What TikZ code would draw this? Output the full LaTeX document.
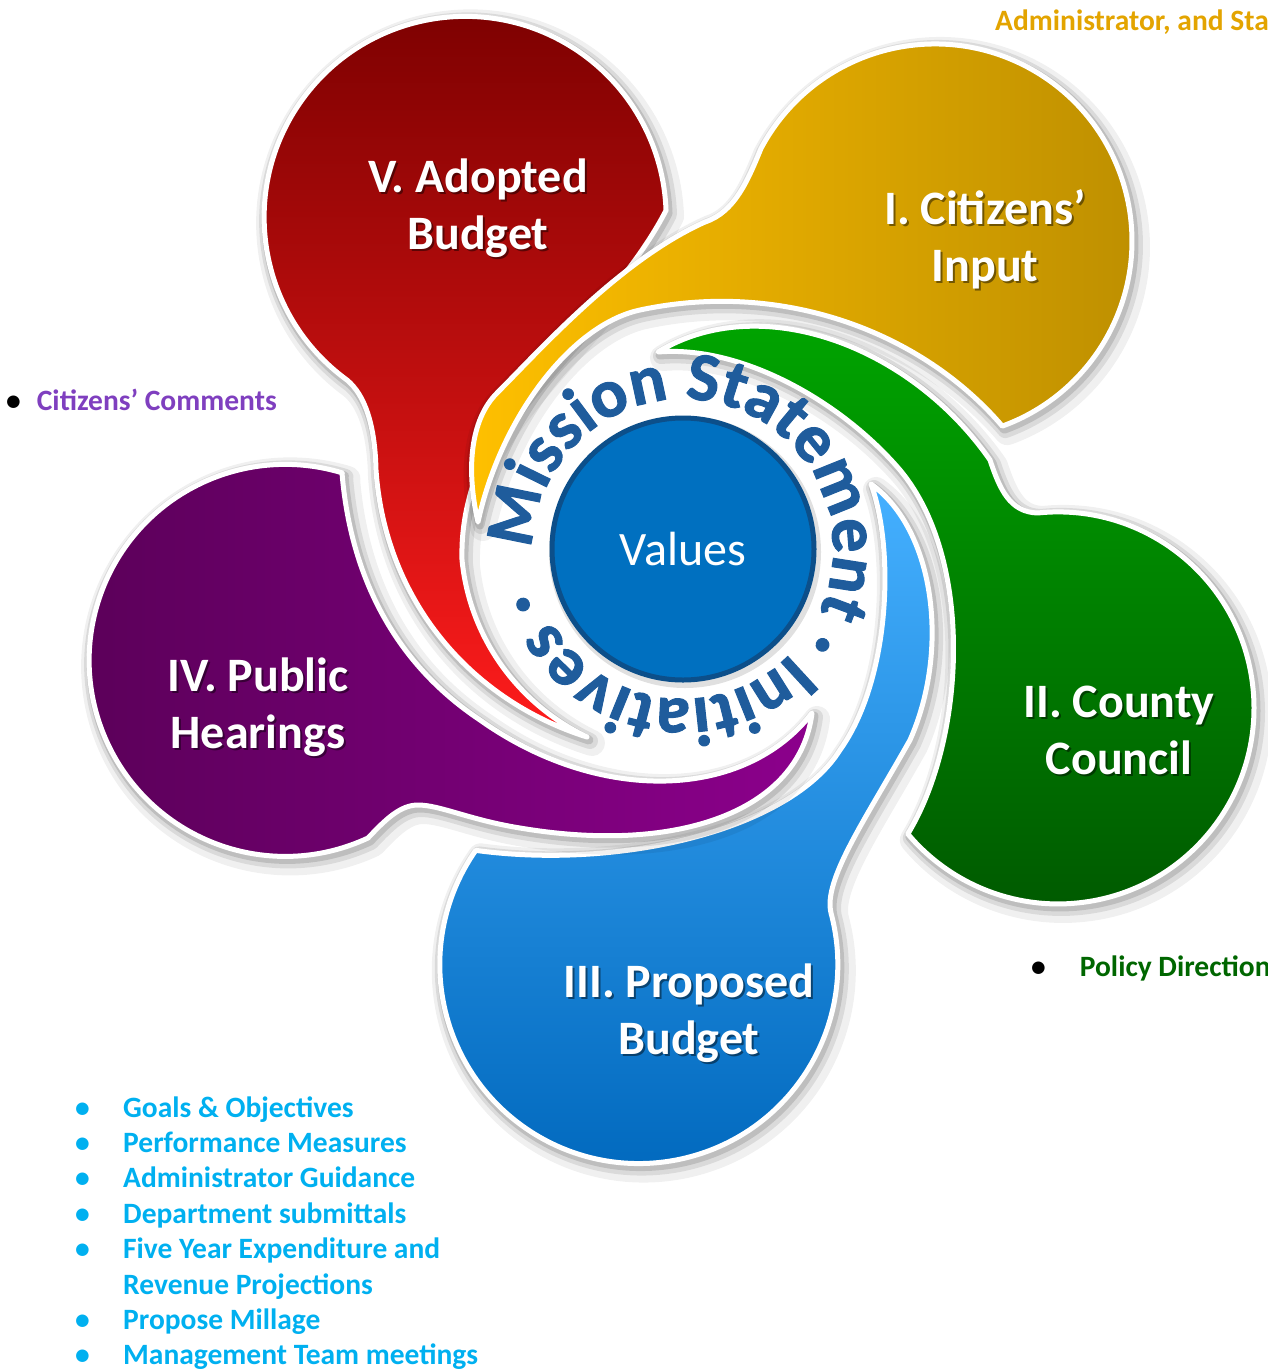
\documentclass[tikz,border=0pt]{standalone}
\usepackage{fontspec}
\setmainfont{Carlito}
\newfontfamily\ringfam{Carlito}[BoldFeatures={FakeBold=1.5}]
\usetikzlibrary{decorations.text}
\definecolor{redtop}{HTML}{7A0000}
\definecolor{redbot}{HTML}{FF1C1C}
\definecolor{ylwA}{HTML}{FFC000}
\definecolor{ylwB}{HTML}{BC8E00}
\definecolor{grnA}{HTML}{00A800}
\definecolor{grnB}{HTML}{005A00}
\definecolor{bluA}{HTML}{45B0FF}
\definecolor{bluB}{HTML}{0068BD}
\definecolor{purA}{HTML}{5A0058}
\definecolor{purB}{HTML}{8C008C}
\definecolor{ringblue}{HTML}{1F5C9C}
\definecolor{valfill}{HTML}{0070C0}
\definecolor{valdraw}{HTML}{0C4F8A}
\definecolor{adminorange}{HTML}{E3A400}
\definecolor{cpurple}{HTML}{7F3FBF}
\definecolor{pgreen}{HTML}{006600}
\definecolor{listblue}{HTML}{00B0F0}
\newcommand\ringfont{\fontsize{68.6}{72}\ringfam\bfseries}
\begin{document}
\begin{tikzpicture}[x=1pt,y=-1pt,
  petal/.style={draw=white, line width=5pt, line join=round,
    preaction={draw=black, opacity=0.06, line width=26pt, line join=round, transform canvas={shift={(5pt,-6pt)}}},
    preaction={draw=black, opacity=0.09, line width=16pt, line join=round, transform canvas={shift={(3pt,-4pt)}}},
    preaction={draw=black, opacity=0.13, line width=9pt, line join=round, transform canvas={shift={(2pt,-3pt)}}}},
  lbl/.style={text=white, font=\fontsize{48}{57}\selectfont\bfseries, align=center, inner sep=0pt},
  lblsh/.style={lbl, text=black, opacity=0.45},
  side/.style={anchor=base west, inner sep=0pt, font=\fontsize{29.5}{35}\selectfont\bfseries}]
\useasboundingbox (0,0) rectangle (1267,1371);

% V. red petal
\path[petal, top color=redtop, bottom color=redbot]
  (347,380) arc[start angle=126, end angle=358, radius=201]
  .. controls (620,300) and (520,380) .. (485,450)
  .. controls (470,490) and (461,520) .. (462,560)
  .. controls (470,640) and (520,705) .. (587,737)
  .. controls (470,700) and (385,600) .. (376,470)
  .. controls (375,425) and (365,395) .. cycle;

% I. yellow petal
\path[petal, left color=ylwA, right color=ylwB]
  (478,522) .. controls (466,470) and (470,420) .. (497,393)
  .. controls (540,350) and (620,260) .. (705,222)
  .. controls (735,212) and (748,180) .. (761,148.5)
  arc[start angle=208, end angle=430, radius=197]
  .. controls (920,330) and (780,280) .. (640,310)
  .. controls (570,325) and (500,420) .. cycle;

% II. green petal
\path[petal, top color=grnA, bottom color=grnB]
  (658,352) .. controls (760,290) and (910,345) .. (990,460)
  .. controls (1000,490) and (1010,512) .. (1037.5,513)
  arc[start angle=264, end angle=500, radius=196]
  .. controls (965,740) and (975,560) .. (900,470)
  .. controls (840,400) and (740,345) .. cycle;

% III. blue petal
\path[petal, top color=bluA, bottom color=bluB]
  (871,484) .. controls (935,530) and (950,650) .. (910,740)
  .. controls (865,820) and (823,880) .. (831,913)
  arc[start angle=345, end angle=575, radius=199]
  .. controls (620,870) and (790,830) .. (840,750)
  .. controls (890,680) and (895,550) .. cycle;

% IV. purple petal
\path[petal, left color=purA, right color=purB]
  (342,473) .. controls (350,570) and (390,660) .. (480,720)
  .. controls (600,805) and (745,800) .. (812,713)
  .. controls (800,810) and (680,855) .. (520,828)
  .. controls (470,820) and (440,805) .. (418,805)
  .. controls (400,805) and (385,820) .. (368,838)
  arc[start angle=65, end angle=287, radius=196] -- cycle;

% centre
\node[circle, minimum size=262pt, inner sep=0pt, fill=valfill, draw=valdraw, line width=5pt,
  text=white, font=\fontsize{48}{56}\selectfont,
  preaction={draw=black, opacity=0.12, line width=10pt, transform canvas={shift={(2pt,-3pt)}}}]
  (values) at (683,549) {Values};

% ring text
\path[decorate, decoration={text along path, text align=left, text color=ringblue,
  text={|\ringfont|Mission Statement · Initiatives ·}}]
  (683,549) ++(-180:150) arc[start angle=-180, end angle=180, radius=150];

% petal labels
\node[lblsh] (t5s) at (480,210) {V. Adopted\\Budget};
\node[lbl]   (t5)  at (478,208) {V. Adopted\\Budget};
\node[lblsh] (t1s) at (987,241) {I. Citizens’\\Input};
\node[lbl]   (t1)  at (985,239) {I. Citizens’\\Input};
\node[lblsh] (t2s) at (1121,732) {II. County\\Council};
\node[lbl]   (t2)  at (1119,730) {II. County\\Council};
\node[lblsh] (t3s) at (691,1015) {III. Proposed\\Budget};
\node[lbl]   (t3)  at (689,1013) {III. Proposed\\Budget};
\node[lblsh] (t4s) at (260,709) {IV. Public\\Hearings};
\node[lbl]   (t4)  at (258,707) {IV. Public\\Hearings};

% side texts
\node[side, text=adminorange] (admin) at (995,30) {Administrator, and Sta};
\node[side] (comments) at (6,410) {\textcolor{black}{•}\hspace{16pt}\textcolor{cpurple}{Citizens’ Comments}};
\node[side] (policy) at (1031,976) {\textcolor{black}{•}\hspace{34pt}\textcolor{pgreen}{Policy Direction}};
\node[anchor=base west, inner sep=0pt, text=listblue, font=\fontsize{29.5}{35.4}\selectfont\bfseries] (list) at (75,1117)
  {\begin{tabular}[t]{@{}p{48pt}@{}l@{}}
   • & Goals \& Objectives\\
   • & Performance Measures\\
   • & Administrator Guidance\\
   • & Department submittals\\
   • & Five Year Expenditure and\\
     & Revenue Projections\\
   • & Propose Millage\\
   • & Management Team meetings
   \end{tabular}};
\end{tikzpicture}
\end{document}
